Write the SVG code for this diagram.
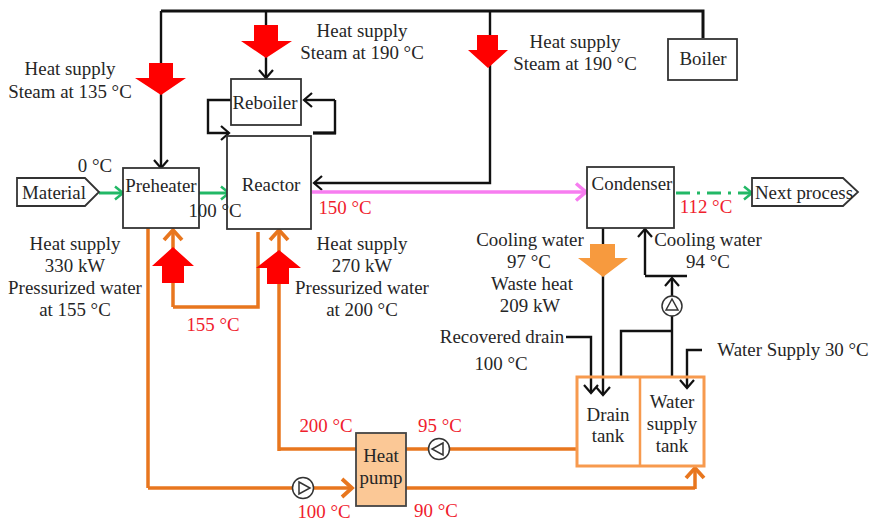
<svg xmlns="http://www.w3.org/2000/svg" width="872" height="522" viewBox="0 0 872 522">
<style>
text{font-family:"Liberation Serif","Times New Roman",serif;font-size:18.9px;fill:#262626;text-anchor:middle}
text.r{fill:#f0202c}
.box{fill:#fff;stroke:#333;stroke-width:1.8}
.k{fill:none;stroke:#111;stroke-width:2.4;marker-end:url(#mk)}
.k0{fill:none;stroke:#111;stroke-width:2.4}
.kt{fill:none;stroke:#111;stroke-width:3}
.g{fill:none;stroke:#22b866;stroke-width:3;marker-end:url(#mg)}
.m{fill:none;stroke:#f77df0;stroke-width:3.5;marker-end:url(#mm)}
.o{fill:none;stroke:#e8761e;stroke-width:3.5;marker-end:url(#mo)}
.o0{fill:none;stroke:#e8761e;stroke-width:3.5}
.red{fill:#ff0000}
.pump{fill:#fff;stroke:#333;stroke-width:1.5}
.tri{fill:#fff;stroke:#333;stroke-width:1.5}
</style>
<defs>
<marker id="mk" markerUnits="userSpaceOnUse" markerWidth="14" markerHeight="18" refX="11" refY="9" orient="auto"><path d="M3 2L11 9L3 16" fill="none" stroke="#111" stroke-width="2.2"/></marker>
<marker id="mg" markerUnits="userSpaceOnUse" markerWidth="14" markerHeight="16" refX="11" refY="8" orient="auto"><path d="M3 1.5L11 8L3 14.5" fill="none" stroke="#22b866" stroke-width="2.5"/></marker>
<marker id="mm" markerUnits="userSpaceOnUse" markerWidth="16" markerHeight="20" refX="13" refY="10" orient="auto"><path d="M3 1.5L13 10L3 18.5" fill="none" stroke="#f77df0" stroke-width="3.5"/></marker>
<marker id="mo" markerUnits="userSpaceOnUse" markerWidth="16" markerHeight="22" refX="13" refY="11" orient="auto"><path d="M3 2L13 11L3 20" fill="none" stroke="#e8761e" stroke-width="3.8"/></marker>
</defs>
<g id="connectors">
<path class="kt" d="M161 11H703V38"/>
<path class="k" d="M161 11V168"/>
<path class="k" d="M266 11V78"/>
<path class="k" d="M490 11V183H314"/>
<path class="k" d="M231 100H208V133H229"/>
<path class="k0" d="M313 133H335V100"/>
<path class="kt" d="M313 133H336"/>
<path class="k" d="M335 100H304"/>
<path class="g" d="M99 193H123"/>
<path class="g" d="M199 193H229"/>
<path class="m" d="M312 192H586"/>
<path class="g" d="M676 193H752" stroke-dasharray="14 7 3 7"/>
<path class="o0" d="M148 228V488"/>
<path class="o" d="M148 488H352"/>
<path class="o" d="M173 307V230"/>
<path class="o0" d="M173 307H258V232"/>
<path class="o" d="M279 451V230"/>
<path class="o0" d="M278 449H356"/>
<path class="o" d="M576 449H358"/>
<path class="o0" d="M406 488H695"/>
<path class="o" d="M695 489V468"/>
<path class="k0" d="M603 228V246"/>
<path class="k" d="M603 270V395"/>
<path class="k" d="M566 337H591V393"/>
<path class="k" d="M645 275V229"/>
<path class="k0" d="M645 276H687"/>
<path class="k" d="M672 377V278"/>
<path class="k0" d="M621 377V331H672"/>
<path class="k" d="M702 350H687V388"/>
</g>
<g id="steam-arrow-135"><path class="red" d="M149 63H173V78H186L161 95L135 78H149Z"/></g>
<g id="steam-arrow-190a"><path class="red" d="M254 25H278V41H292L266 58L241 41H254Z"/></g>
<g id="steam-arrow-190b"><path class="red" d="M477 35H498V50H508L488 68L468 50H477Z"/></g>
<g id="water-arrow-155"><path class="red" d="M162 283H184V266H194L173 247L152 266H162Z"/></g>
<g id="water-arrow-200"><path class="red" d="M267 284H289V268H301L279 250L256 268H267Z"/></g>
<g id="waste-arrow"><path fill="#f79a3e" d="M590 244H615V258H628L603 277L578 258H590Z"/></g>
<g id="boiler"><rect class="box" x="668" y="39" width="69" height="41"/><text x="703" y="65">Boiler</text></g>
<g id="reboiler"><rect class="box" x="231" y="79" width="70" height="46"/><text x="265" y="109">Reboiler</text></g>
<g id="reactor"><rect class="box" x="227" y="136" width="84" height="93"/><text x="271" y="191">Reactor</text></g>
<g id="preheater"><rect class="box" x="123" y="168" width="76" height="60"/><text x="161" y="192">Preheater</text></g>
<g id="material"><path class="box" d="M17 178H85L99 192L85 206H17Z"/><text x="54" y="199">Material</text></g>
<g id="condenser"><rect class="box" x="587" y="167" width="87" height="61"/><text x="632" y="190">Condenser</text></g>
<g id="next-process"><path class="box" d="M752 178H843L858 192L843 206H752Z"/><text x="804" y="199">Next process</text></g>
<g id="heat-pump"><rect x="356" y="433" width="50" height="73" fill="#fbc896" stroke="#444" stroke-width="1.8"/><text x="381" y="462">Heat</text><text x="381" y="484">pump</text></g>
<g id="tanks"><rect x="577" y="377" width="127" height="89" fill="#fff" fill-opacity="0" stroke="#f79a4e" stroke-width="3"/><path d="M640 377V466" stroke="#f79a4e" stroke-width="2.5" fill="none"/>
<text x="608" y="421">Drain</text><text x="608" y="442">tank</text><text x="672" y="408">Water</text><text x="672" y="430">supply</text><text x="672" y="452">tank</text></g>
<g id="pump-1"><circle class="pump" cx="303" cy="488" r="10.5"/><path class="tri" d="M299 482L310 488L299 494Z"/></g>
<g id="pump-2"><circle class="pump" cx="439" cy="449" r="10.5"/><path class="tri" d="M443 443L432 449L443 455Z"/></g>
<g id="pump-3"><circle class="pump" cx="672" cy="306" r="10"/><path class="tri" d="M666 310L672 299L678 310Z"/></g>
<g id="labels">
<text x="70" y="75">Heat supply</text><text x="70" y="98">Steam at 135 °C</text>
<text x="362" y="37">Heat supply</text><text x="362" y="59">Steam at 190 °C</text>
<text x="575" y="48">Heat supply</text><text x="575" y="70">Steam at 190 °C</text>
<text x="95" y="172">0 °C</text><text x="215" y="217">100 °C</text>
<text class="r" x="345" y="214">150 °C</text><text class="r" x="706" y="213">112 °C</text>
<text x="75" y="250">Heat supply</text><text x="75" y="272">330 kW</text><text x="75" y="294">Pressurized water</text><text x="75" y="316">at 155 °C</text>
<text x="362" y="250">Heat supply</text><text x="362" y="272">270 kW</text><text x="362" y="294">Pressurized water</text><text x="362" y="316">at 200 °C</text>
<text class="r" x="213" y="331">155 °C</text><text class="r" x="326" y="432">200 °C</text><text class="r" x="440" y="432">95 °C</text><text class="r" x="324" y="518">100 °C</text><text class="r" x="436" y="517">90 °C</text>
<text x="530" y="246">Cooling water</text><text x="529" y="268">97 °C</text><text x="532" y="290">Waste heat</text><text x="530" y="312">209 kW</text>
<text x="502" y="343">Recovered drain</text><text x="501" y="370">100 °C</text>
<text x="708" y="246">Cooling water</text><text x="708" y="268">94 °C</text>
<text x="793" y="356">Water Supply 30 °C</text>
</g>
</svg>
